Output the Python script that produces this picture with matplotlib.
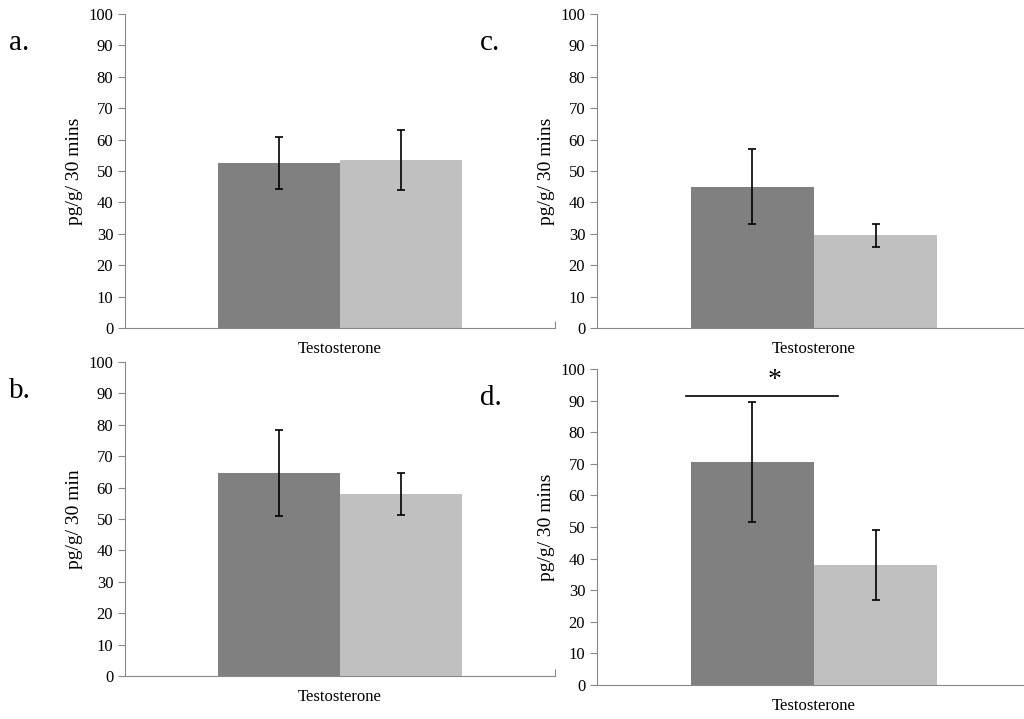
import matplotlib
matplotlib.use("Agg")
import matplotlib.pyplot as plt

plt.rcParams['font.family'] = ['Liberation Serif', 'DejaVu Serif']

panels = ['a.', 'b.', 'c.', 'd.']
means_dark = [52.5, 64.5, 45.0, 70.5]
err_dark = [8.3, 13.7, 12.0, 19.0]
means_light = [53.5, 58.0, 29.5, 38.0]
err_light = [9.7, 6.7, 3.7, 11.0]
ylabels = ['pg/g/ 30 mins', 'pg/g/ 30 min', 'pg/g/ 30 mins', 'pg/g/ 30 mins']
category = 'Testosterone'

# axes rectangles in pixels: left, top(100), bottom(0), width
rects = [(125, 14, 328, 430), (125, 362, 676, 430),
         (597, 14, 328, 434), (597, 369, 685, 434)]

W, H = 1024, 719
fig = plt.figure(figsize=(W / 100, H / 100), dpi=100)
bw = 0.284
for i in range(4):
    l, t, b, w = rects[i]
    ax = fig.add_axes([l / W, (H - b) / H, w / W, (b - t) / H])
    ax.patch.set_alpha(0)
    ax.bar(0.5 - bw / 2, means_dark[i], bw, color='#808080',
           yerr=err_dark[i], capsize=3, error_kw=dict(lw=1.2, capthick=1.2))
    ax.bar(0.5 + bw / 2, means_light[i], bw, color='#c0c0c0',
           yerr=err_light[i], capsize=3, error_kw=dict(lw=1.2, capthick=1.2))
    ax.set_xlim(0, 1)
    ax.set_ylim(0, 100)
    ax.set_yticks(range(0, 101, 10))
    ax.set_xticks([1])
    ax.set_xticklabels([])
    ax.tick_params(axis='x', direction='in', length=5, color='#888888')
    ax.tick_params(axis='y', length=5, color='#888888', labelsize=12)
    for s in ['top', 'right']:
        ax.spines[s].set_visible(False)
    for s in ['left', 'bottom']:
        ax.spines[s].set_color('#888888')
    ax.set_xlabel(category, fontsize=12, labelpad=6)
    ax.set_ylabel(ylabels[i], fontsize=14)
    ax.text(-0.27, 0.95, panels[i], transform=ax.transAxes, fontsize=21,
            va='top', ha='left')
    if i == 3:
        ax.plot([0.5 - bw - 0.01, 0.5 + 0.055], [91.5, 91.5], color='black', lw=1.2)
        ax.text(0.41, 92.5, '*', fontsize=20, ha='center', va='bottom')

fig.savefig('out.png', dpi=100)
